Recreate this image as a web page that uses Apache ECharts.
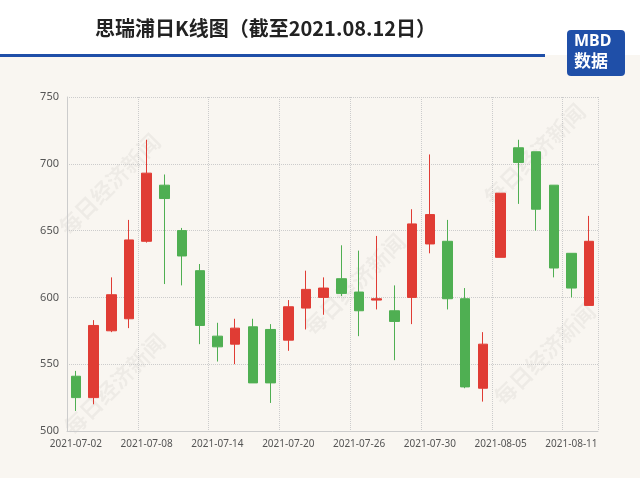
<!DOCTYPE html>
<html><head><meta charset="utf-8">
<script src="https://cdn.jsdelivr.net/npm/echarts@6/dist/echarts.min.js"></script>
<style>html,body{margin:0;padding:0;background:#f9f6f1;}#c{width:640px;height:478px;}</style>
</head><body><div id="c"></div>
<script>
// 日期
let dates = ['2021-07-02','2021-07-05','2021-07-06','2021-07-07','2021-07-08','2021-07-09',
  '2021-07-12','2021-07-13','2021-07-14','2021-07-15','2021-07-16',
  '2021-07-19','2021-07-20','2021-07-21','2021-07-22','2021-07-23',
  '2021-07-26','2021-07-27','2021-07-28','2021-07-29','2021-07-30',
  '2021-08-02','2021-08-03','2021-08-04','2021-08-05','2021-08-06',
  '2021-08-09','2021-08-10','2021-08-11','2021-08-12'];
// open, close, low, high
let opens  = [541,525,575,584,642,684,650,620,571,565,578,576,568,592,600,614,604,598,590,600,640,642,599,532,630,712,709,684,633,594];
let closes = [525,579,602,643,693,674,631,579,563,577,536,536,593,606,607,603,590,599,582,655,662,599,533,565,678,701,666,622,607,642];
let lows   = [515,520,574,577,641,610,609,565,552,550,536,521,560,576,587,601,571,591,553,580,633,591,532,522,630,670,650,615,600,594];
let highs  = [545,583,615,658,718,692,652,625,581,584,584,580,598,620,615,639,635,646,609,666,707,658,607,574,678,718,709,684,633,661];

let kdata = opens.map((o, i) => [o, closes[i], lows[i], highs[i]]);

let chart = echarts.init(document.getElementById('c'));
let wm = [];
[[55,130],[480,100],[60,330],[300,230],[490,300]].forEach(p => {
  wm.push({type:'text', left:p[0], top:p[1], rotation:Math.PI/4, z:0,
    style:{text:'每日经济新闻', fill:'rgba(0,0,0,0.045)', font:'bold 22px "Noto Sans CJK SC"'}});
});
chart.setOption({
  backgroundColor: '#f9f6f1',
  animation: false,
  graphic: [
    {type:'rect', left:0, top:0, shape:{width:640, height:55}, style:{fill:'#fff'}},
    {type:'rect', left:0, top:54, shape:{width:545, height:3}, style:{fill:'#1f4fa8'}},
    {type:'text', left:95, top:18, style:{text:'思瑞浦日K线图（截至2021.08.12日）', fill:'#222',
      font:'bold 20px "Noto Sans CJK SC"'}},
    {type:'rect', left:567, top:30, shape:{width:58, height:46, r:4}, style:{fill:'#1f4fa8'}},
    {type:'text', left:574, top:33, style:{text:'MBD', fill:'#fff', font:'bold 16px "Noto Sans"'}},
    {type:'text', left:574, top:52, style:{text:'数据', fill:'#fff', font:'bold 17px "Noto Sans CJK SC"'}}
  ].concat(wm),
  grid: {left: 67, right: 42, top: 97, bottom: 47},
  xAxis: {
    type: 'category', data: dates, boundaryGap: true,
    axisLine: {lineStyle: {color: '#ccc'}},
    axisTick: {show: false},
    axisLabel: {interval: 3, color: '#555', fontSize: 10, fontFamily: 'Noto Sans'},
    splitLine: {show: true, interval: 3, lineStyle: {type: 'dotted', color: '#ccc'}}
  },
  yAxis: {
    type: 'value', min: 500, max: 750, interval: 50,
    axisLine: {show: true, lineStyle: {color: '#ccc'}},
    axisTick: {show: false},
    axisLabel: {color: '#555', fontSize: 11, fontFamily: 'Noto Sans'},
    splitLine: {lineStyle: {type: 'dotted', color: '#ccc'}}
  },
  series: [{
    type: 'candlestick', data: kdata, barWidth: 10,
    itemStyle: {color: '#e03c34', color0: '#4faf52', borderColor: '#e03c34', borderColor0: '#4faf52'}
  }]
});
</script></body></html>
